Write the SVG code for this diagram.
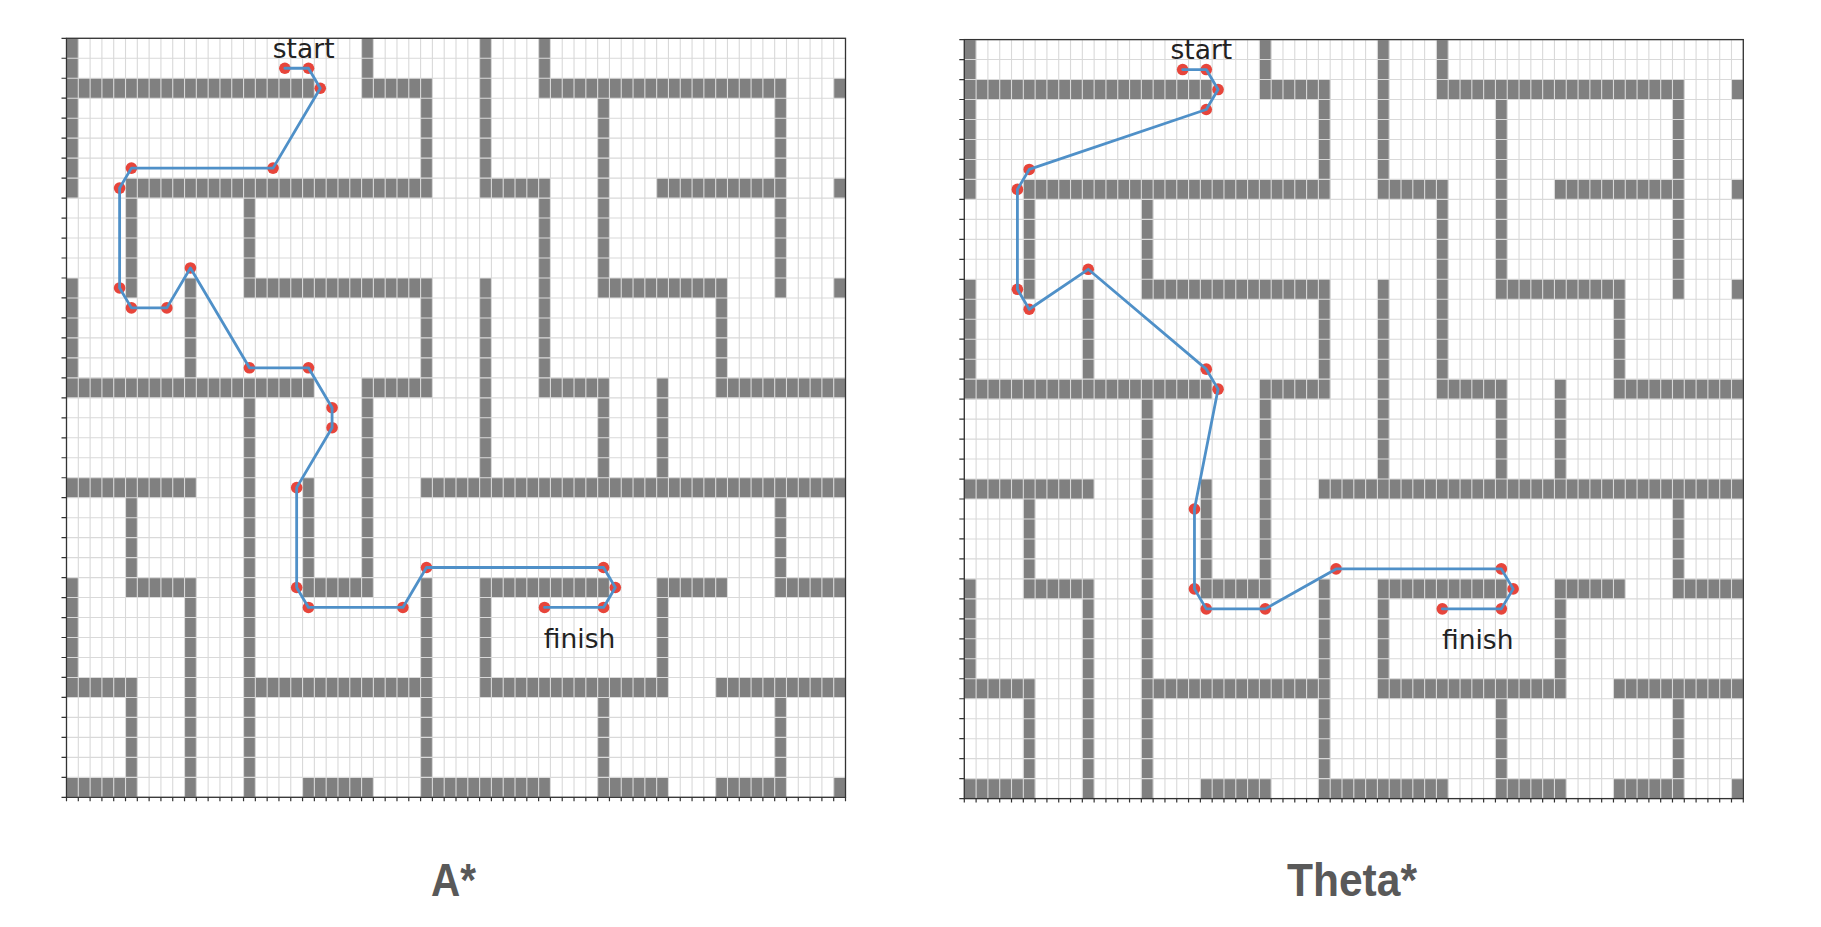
<svg xmlns="http://www.w3.org/2000/svg" xmlns:xlink="http://www.w3.org/1999/xlink" width="1821" height="927" viewBox="0 0 1821 927">
<style>
.wall{fill:#808080}
.grid{fill:none;stroke:#d9d9d9;stroke-width:1.1}
.spine{fill:none;stroke:#333;stroke-width:1.3}
.tickl{stroke:#333;stroke-width:5;stroke-dasharray:1.2 18.774}
.tickb{stroke:#333;stroke-width:4;stroke-dasharray:1.2 10.603}
.path{fill:none;stroke:#4f90c8;stroke-width:2.8;stroke-linejoin:round;stroke-linecap:round}
.dot{fill:#e5352a;fill-opacity:0.92}
.lbl{font-family:"DejaVu Sans",sans-serif;font-size:26.5px;fill:#222}
.title{font-family:"Liberation Sans",Arial,sans-serif;font-weight:bold;font-size:46px;fill:#595959}
</style>
<defs>
<g id="walls">
<rect class="wall" x="0" y="2" width="21" height="1"/><rect class="wall" x="25" y="2" width="6" height="1"/><rect class="wall" x="40" y="2" width="21" height="1"/><rect class="wall" x="65" y="2" width="1" height="1"/>
<rect class="wall" x="5" y="7" width="26" height="1"/><rect class="wall" x="35" y="7" width="6" height="1"/><rect class="wall" x="50" y="7" width="11" height="1"/><rect class="wall" x="65" y="7" width="1" height="1"/>
<rect class="wall" x="15" y="12" width="16" height="1"/><rect class="wall" x="45" y="12" width="11" height="1"/><rect class="wall" x="65" y="12" width="1" height="1"/>
<rect class="wall" x="0" y="17" width="21" height="1"/><rect class="wall" x="25" y="17" width="6" height="1"/><rect class="wall" x="40" y="17" width="6" height="1"/><rect class="wall" x="55" y="17" width="11" height="1"/>
<rect class="wall" x="0" y="22" width="11" height="1"/><rect class="wall" x="30" y="22" width="36" height="1"/>
<rect class="wall" x="5" y="27" width="6" height="1"/><rect class="wall" x="20" y="27" width="6" height="1"/><rect class="wall" x="35" y="27" width="11" height="1"/><rect class="wall" x="50" y="27" width="6" height="1"/><rect class="wall" x="60" y="27" width="6" height="1"/>
<rect class="wall" x="0" y="32" width="6" height="1"/><rect class="wall" x="15" y="32" width="16" height="1"/><rect class="wall" x="35" y="32" width="16" height="1"/><rect class="wall" x="55" y="32" width="11" height="1"/>
<rect class="wall" x="0" y="37" width="6" height="1"/><rect class="wall" x="20" y="37" width="6" height="1"/><rect class="wall" x="30" y="37" width="11" height="1"/><rect class="wall" x="45" y="37" width="6" height="1"/><rect class="wall" x="55" y="37" width="6" height="1"/><rect class="wall" x="65" y="37" width="1" height="1"/>
<rect class="wall" x="0" y="0" width="1" height="8"/><rect class="wall" x="0" y="12" width="1" height="6"/><rect class="wall" x="0" y="27" width="1" height="6"/>
<rect class="wall" x="5" y="7" width="1" height="6"/><rect class="wall" x="5" y="22" width="1" height="6"/><rect class="wall" x="5" y="32" width="1" height="6"/>
<rect class="wall" x="10" y="12" width="1" height="6"/><rect class="wall" x="10" y="27" width="1" height="11"/>
<rect class="wall" x="15" y="7" width="1" height="6"/><rect class="wall" x="15" y="17" width="1" height="21"/>
<rect class="wall" x="20" y="22" width="1" height="6"/>
<rect class="wall" x="25" y="0" width="1" height="3"/><rect class="wall" x="25" y="17" width="1" height="11"/>
<rect class="wall" x="30" y="2" width="1" height="6"/><rect class="wall" x="30" y="12" width="1" height="6"/><rect class="wall" x="30" y="27" width="1" height="11"/>
<rect class="wall" x="35" y="0" width="1" height="8"/><rect class="wall" x="35" y="12" width="1" height="11"/><rect class="wall" x="35" y="27" width="1" height="6"/>
<rect class="wall" x="40" y="0" width="1" height="3"/><rect class="wall" x="40" y="7" width="1" height="11"/>
<rect class="wall" x="45" y="2" width="1" height="11"/><rect class="wall" x="45" y="17" width="1" height="6"/><rect class="wall" x="45" y="32" width="1" height="6"/>
<rect class="wall" x="50" y="17" width="1" height="6"/><rect class="wall" x="50" y="27" width="1" height="6"/>
<rect class="wall" x="55" y="12" width="1" height="6"/>
<rect class="wall" x="60" y="2" width="1" height="11"/><rect class="wall" x="60" y="22" width="1" height="6"/><rect class="wall" x="60" y="32" width="1" height="6"/>
</g>
<g id="frame">
<path class="grid" d="M0 0V759M11.8 0V759M23.61 0V759M35.41 0V759M47.21 0V759M59.02 0V759M70.82 0V759M82.62 0V759M94.42 0V759M106.23 0V759M118.03 0V759M129.83 0V759M141.64 0V759M153.44 0V759M165.24 0V759M177.05 0V759M188.85 0V759M200.65 0V759M212.45 0V759M224.26 0V759M236.06 0V759M247.86 0V759M259.67 0V759M271.47 0V759M283.27 0V759M295.08 0V759M306.88 0V759M318.68 0V759M330.48 0V759M342.29 0V759M354.09 0V759M365.89 0V759M377.7 0V759M389.5 0V759M401.3 0V759M413.11 0V759M424.91 0V759M436.71 0V759M448.51 0V759M460.32 0V759M472.12 0V759M483.92 0V759M495.73 0V759M507.53 0V759M519.33 0V759M531.14 0V759M542.94 0V759M554.74 0V759M566.54 0V759M578.35 0V759M590.15 0V759M601.95 0V759M613.76 0V759M625.56 0V759M637.36 0V759M649.17 0V759M660.97 0V759M672.77 0V759M684.57 0V759M696.38 0V759M708.18 0V759M719.98 0V759M731.79 0V759M743.59 0V759M755.39 0V759M767.2 0V759M779 0V759
M0 0H779M0 19.97H779M0 39.95H779M0 59.92H779M0 79.9H779M0 99.87H779M0 119.84H779M0 139.82H779M0 159.79H779M0 179.77H779M0 199.74H779M0 219.71H779M0 239.69H779M0 259.66H779M0 279.64H779M0 299.61H779M0 319.58H779M0 339.56H779M0 359.53H779M0 379.51H779M0 399.48H779M0 419.45H779M0 439.43H779M0 459.4H779M0 479.38H779M0 499.35H779M0 519.32H779M0 539.3H779M0 559.27H779M0 579.25H779M0 599.22H779M0 619.19H779M0 639.17H779M0 659.14H779M0 679.12H779M0 699.09H779M0 719.06H779M0 739.04H779M0 759H779"/>
<rect class="spine" x="0" y="0" width="779" height="759"/>
<path class="tickl" d="M-2.5 -0.6V760"/>
<path class="tickb" d="M-0.6 761H780"/>
</g>
</defs>

<g id="astar-plot">
<use xlink:href="#walls" href="#walls" transform="translate(66.5,38.3) scale(11.803,19.974)"/>
<use xlink:href="#frame" href="#frame" transform="translate(66.5,38.3)"/>
</g>
<g id="theta-plot">
<use xlink:href="#walls" href="#walls" transform="translate(964.3,39.6) scale(11.803,19.974)"/>
<use xlink:href="#frame" href="#frame" transform="translate(964.3,39.6)"/>
</g>

<g id="connectors">
<g id="astar-path">
<g class="dot">
<circle cx="284.85" cy="68.26" r="5.8"/><circle cx="308.46" cy="68.26" r="5.8"/><circle cx="320.26" cy="88.23" r="5.8"/><circle cx="273.05" cy="168.11" r="5.8"/><circle cx="131.42" cy="168.11" r="5.8"/><circle cx="119.61" cy="188.08" r="5.8"/><circle cx="119.61" cy="287.93" r="5.8"/><circle cx="131.42" cy="307.9" r="5.8"/><circle cx="166.82" cy="307.9" r="5.8"/><circle cx="190.43" cy="267.96" r="5.8"/><circle cx="249.45" cy="367.81" r="5.8"/><circle cx="308.46" cy="367.81" r="5.8"/><circle cx="332.07" cy="407.75" r="5.8"/><circle cx="332.07" cy="427.72" r="5.8"/><circle cx="296.66" cy="487.63" r="5.8"/><circle cx="296.66" cy="587.48" r="5.8"/><circle cx="308.46" cy="607.45" r="5.8"/><circle cx="402.88" cy="607.45" r="5.8"/><circle cx="426.49" cy="567.51" r="5.8"/><circle cx="603.54" cy="567.51" r="5.8"/><circle cx="615.34" cy="587.48" r="5.8"/><circle cx="603.54" cy="607.45" r="5.8"/><circle cx="544.52" cy="607.45" r="5.8"/>
</g>
<polyline class="path" points="284.85,68.26 308.46,68.26 320.26,88.23 273.05,168.11 131.42,168.11 119.61,188.08 119.61,287.93 131.42,307.9 166.82,307.9 190.43,267.96 249.45,367.81 308.46,367.81 332.07,407.75 332.07,427.72 296.66,487.63 296.66,587.48 308.46,607.45 402.88,607.45 426.49,567.51 603.54,567.51 615.34,587.48 603.54,607.45 544.52,607.45"/>
</g>
<g id="theta-path">
<g class="dot">
<circle cx="1182.65" cy="69.56" r="5.8"/><circle cx="1206.26" cy="69.56" r="5.8"/><circle cx="1218.06" cy="89.54" r="5.8"/><circle cx="1206.26" cy="109.51" r="5.8"/><circle cx="1029.22" cy="169.43" r="5.8"/><circle cx="1017.41" cy="189.41" r="5.8"/><circle cx="1017.41" cy="289.28" r="5.8"/><circle cx="1029.22" cy="309.25" r="5.8"/><circle cx="1088.23" cy="269.3" r="5.8"/><circle cx="1206.26" cy="369.17" r="5.8"/><circle cx="1218.06" cy="389.15" r="5.8"/><circle cx="1194.46" cy="508.99" r="5.8"/><circle cx="1194.46" cy="588.89" r="5.8"/><circle cx="1206.26" cy="608.86" r="5.8"/><circle cx="1265.28" cy="608.86" r="5.8"/><circle cx="1336.09" cy="568.91" r="5.8"/><circle cx="1501.34" cy="568.91" r="5.8"/><circle cx="1513.14" cy="588.89" r="5.8"/><circle cx="1501.34" cy="608.86" r="5.8"/><circle cx="1442.32" cy="608.86" r="5.8"/>
</g>
<polyline class="path" points="1182.65,69.56 1206.26,69.56 1218.06,89.54 1206.26,109.51 1029.22,169.43 1017.41,189.41 1017.41,289.28 1029.22,309.25 1088.23,269.3 1206.26,369.17 1218.06,389.15 1194.46,508.99 1194.46,588.89 1206.26,608.86 1265.28,608.86 1336.09,568.91 1501.34,568.91 1513.14,588.89 1501.34,608.86 1442.32,608.86"/>
</g>
</g>

<g id="labels">
<text class="lbl" x="272.8" y="58">start</text>
<text class="lbl" x="543.8" y="648.3">finish</text>
<text class="lbl" x="1170.5" y="59.3">start</text>
<text class="lbl" x="1442" y="649.3">finish</text>
<text class="title" x="431" y="895.5" textLength="45" lengthAdjust="spacingAndGlyphs">A*</text>
<text class="title" x="1287" y="895.5" textLength="130" lengthAdjust="spacingAndGlyphs">Theta*</text>
</g>
</svg>
